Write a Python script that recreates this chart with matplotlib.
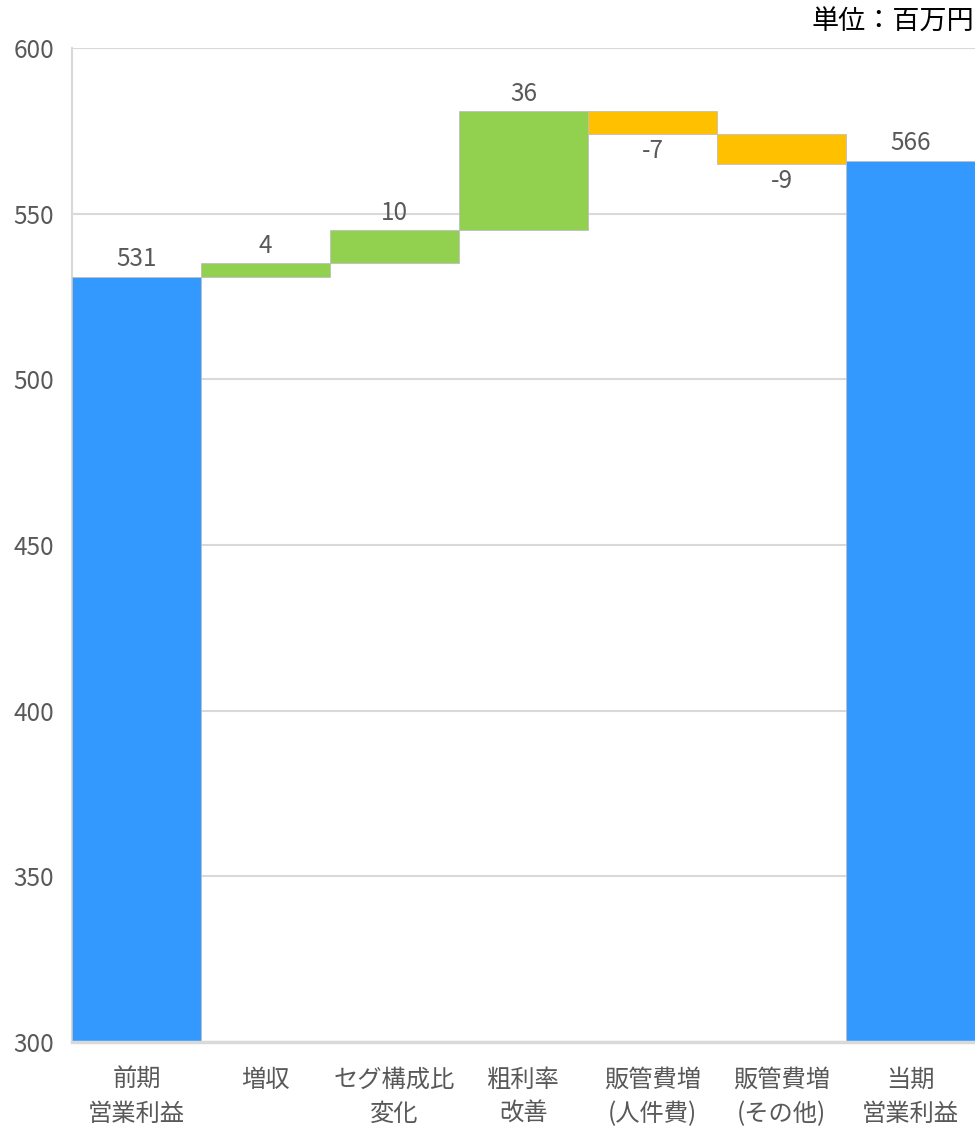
import matplotlib
matplotlib.use("Agg")
import matplotlib.pyplot as plt
import numpy as np

plt.rcParams["font.family"] = ["Noto Sans CJK JP", "DejaVu Sans"]

categories = ["前期\n営業利益", "増収", "セグ構成比\n変化", "粗利率\n改善",
              "販管費増\n(人件費)", "販管費増\n(その他)", "当期\n営業利益"]
values = [531, 4, 10, 36, -7, -9, 566]
is_total = [True, False, False, False, False, False, True]

BLUE = "#3399FF"
GREEN = "#92D050"
ORANGE = "#FFC000"
TEXT = "#595959"
GRID = "#D9D9D9"

# waterfall geometry
bottoms, heights, colors = [], [], []
running = 0
for v, tot in zip(values, is_total):
    if tot:
        bottoms.append(0)
        heights.append(v)
        colors.append(BLUE)
        running = v
    else:
        if v >= 0:
            bottoms.append(running)
            heights.append(v)
            colors.append(GREEN)
        else:
            bottoms.append(running + v)
            heights.append(-v)
            colors.append(ORANGE)
        running += v

fig = plt.figure(figsize=(9.75, 11.28), dpi=100)
ax = fig.add_axes([72 / 975, 1 - 1042 / 1128, 1 - 72 / 975, (1042 - 48) / 1128])

x = np.arange(len(categories))
ax.bar(x, heights, bottom=bottoms, width=1.0, color=colors,
       edgecolor="#BFBFBF", linewidth=0.6, zorder=3)

for i, (v, tot) in enumerate(zip(values, is_total)):
    if tot or v >= 0:
        y = bottoms[i] + heights[i]
        ax.annotate(f"{v}", (i, y), xytext=(0, 3), textcoords="offset points",
                    ha="center", va="bottom", fontsize=17.5, color=TEXT)
    else:
        y = bottoms[i]
        ax.annotate(f"{v}", (i, y), xytext=(0, -3), textcoords="offset points",
                    ha="center", va="top", fontsize=17.5, color=TEXT)

ax.set_xlim(-0.5, len(categories) - 0.5)
ax.set_ylim(300, 600)
ax.set_yticks(np.arange(300, 601, 50))
ax.yaxis.grid(True, color=GRID, linewidth=1.5, zorder=0)
ax.set_axisbelow(True)

ax.set_xticks(x)
ax.set_xticklabels(categories, fontsize=17.5, color=TEXT, linespacing=1.4)
ax.tick_params(axis="x", length=0, pad=18)
ax.tick_params(axis="y", length=0, pad=13, labelsize=17.5, labelcolor=TEXT)

for side in ["top", "right"]:
    ax.spines[side].set_visible(False)
ax.spines["left"].set_color(GRID)
ax.spines["left"].set_linewidth(1.5)
ax.spines["bottom"].set_color(GRID)
ax.spines["bottom"].set_linewidth(2.5)
ax.spines["bottom"].set_zorder(4)

fig.text(0.999, 1 - 22 / 1128, "単位：百万円", ha="right", va="center",
         fontsize=19.5, color="black")

fig.savefig("out.png", dpi=100)
